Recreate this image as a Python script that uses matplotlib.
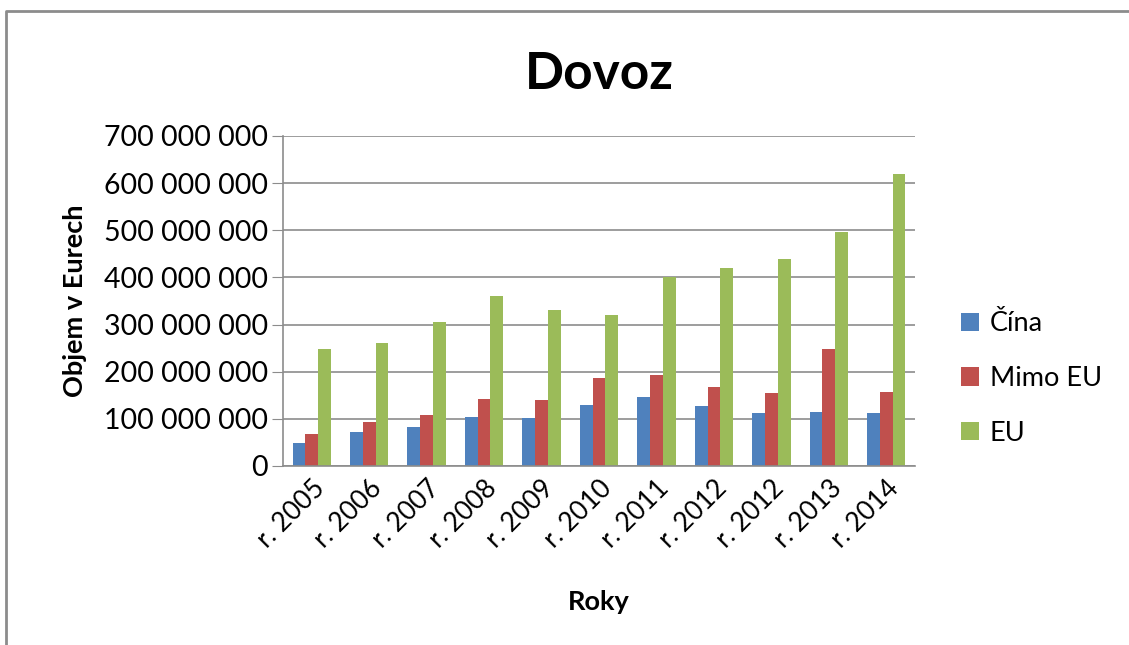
import matplotlib.pyplot as plt
import numpy as np
from matplotlib.pyplot import MultipleLocator
from matplotlib.ticker import FuncFormatter

plt.rcParams['font.family'] = ['Lato', 'DejaVu Sans']

years = ['r. 2005', 'r. 2006', 'r. 2007', 'r. 2008', 'r. 2009', 'r. 2010',
         'r. 2011', 'r. 2012', 'r. 2012', 'r. 2013', 'r. 2014']
cina = [48e6, 73e6, 82e6, 103e6, 101e6, 130e6, 146e6, 127e6, 112e6, 115e6, 112e6]
mimo_eu = [67e6, 94e6, 109e6, 143e6, 139e6, 186e6, 194e6, 167e6, 154e6, 249e6, 158e6]
eu = [248e6, 260e6, 306e6, 361e6, 330e6, 321e6, 401e6, 419e6, 440e6, 497e6, 619e6]
x = np.arange(len(years))
w = 1 / 4.5

fig = plt.figure(figsize=(11.29, 6.45), dpi=100)
fig.add_artist(plt.Line2D([6 / 1129, 6 / 1129, 1], [0, 1 - 11 / 645, 1 - 11 / 645],
                          color='#8c8c8c', lw=2))
ax = fig.add_axes([283 / 1129, 179 / 645, 632 / 1129, 330 / 645])
ax.bar(x - w, cina, w, label='Čína', color='#4f81bd')
ax.bar(x, mimo_eu, w, label='Mimo EU', color='#c0504d')
ax.bar(x + w, eu, w, label='EU', color='#9bbb59')

y_locator = MultipleLocator(100e6)
ax.yaxis.set_major_locator(y_locator)
ax.yaxis.set_major_formatter(FuncFormatter(lambda v, p: f'{int(v):,}'.replace(',', ' ')))
plt.ylim(0, 700e6)
plt.xlim(-0.5, len(years) - 0.5)
ax.set_xticks(x)
ax.set_xticklabels(years, rotation=45, ha='right', rotation_mode='anchor')
ax.yaxis.grid(True, color='#8c8c8c', lw=1.2)
ax.set_axisbelow(True)
for s in ['top', 'right']:
    ax.spines[s].set_visible(False)
ax.spines['left'].set_color('#8c8c8c')
ax.spines['bottom'].set_color('#8c8c8c')
ax.spines['left'].set_linewidth(1.2)
ax.spines['bottom'].set_linewidth(1.2)
ax.tick_params(axis='y', length=8, color='#8c8c8c', labelsize=20.5, pad=3)
ax.tick_params(axis='x', length=0, labelsize=19, pad=7)

plt.title('Dovoz', fontsize=37, fontweight='bold', pad=34)
plt.xlabel('Roky', fontsize=19.5, fontweight='bold', labelpad=27)
plt.ylabel('Objem v Eurech', fontsize=19.5, fontweight='bold', labelpad=12)
plt.legend(loc='center left', bbox_to_anchor=(1.035, 0.265), frameon=False,
           fontsize=19.5, handlelength=0.65, handleheight=0.65, labelspacing=1.1,
           handletextpad=0.4)
plt.savefig('out.png')
